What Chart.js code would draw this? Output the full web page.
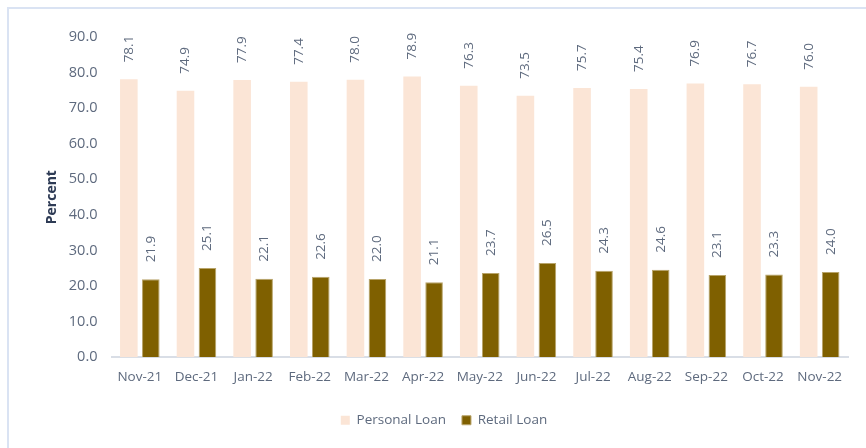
<!DOCTYPE html>
<html>
<head>
<meta charset="utf-8">
<script src="https://cdn.jsdelivr.net/npm/chart.js@4.4.0/dist/chart.umd.min.js"></script>
<style>
  html, body { margin: 0; padding: 0; background: #fff; }
  #wrap { position: relative; width: 866px; height: 448px; }
  #frame {
    position: absolute; left: 7px; top: 7px; right: -4px; bottom: -4px;
    border-left: 2px solid #dae3f3; border-top: 2px solid #dae3f3;
    pointer-events: none;
  }
  canvas { position: absolute; left: 0; top: 0; }
</style>
</head>
<body>
<div id="wrap">
  <canvas id="myChart" width="866" height="448"></canvas>
  <div id="frame"></div>
</div>
<script>
const months = ["Nov-21", "Dec-21", "Jan-22", "Feb-22", "Mar-22", "Apr-22", "May-22",
  "Jun-22", "Jul-22", "Aug-22", "Sep-22", "Oct-22", "Nov-22"];
const personalLoan = [78.1, 74.9, 77.9, 77.4, 78.0, 78.9, 76.3, 73.5, 75.7, 75.4, 76.9, 76.7, 76.0];
const retailLoan = [21.9, 25.1, 22.1, 22.6, 22.0, 21.1, 23.7, 26.5, 24.3, 24.6, 23.1, 23.3, 24.0];
const yTicks = [0, 10, 20, 30, 40, 50, 60, 70, 80, 90];

const textColor = "#5e6a7e";
const fontFamily = "'Open Sans', sans-serif";

// value labels, rotated, above each bar
const barLabels = {
  id: "barLabels",
  afterDatasetsDraw(chart) {
    const ctx = chart.ctx;
    ctx.save();
    ctx.font = "13.5px " + fontFamily;
    ctx.fillStyle = textColor;
    ctx.textAlign = "left";
    ctx.textBaseline = "middle";
    chart.data.datasets.forEach((ds, i) => {
      chart.getDatasetMeta(i).data.forEach((bar, j) => {
        ctx.save();
        ctx.translate(bar.x, bar.y - 17);
        ctx.rotate(-Math.PI / 2);
        ctx.fillText(ds.data[j].toFixed(1), 0, 0);
        ctx.restore();
      });
    });
    ctx.restore();
  },
};

new Chart(document.getElementById("myChart"), {
  type: "bar",
  data: {
    labels: months,
    datasets: [
      {
        label: "Personal Loan",
        data: personalLoan,
        backgroundColor: "#fbe5d6",
        barPercentage: 0.8,
        categoryPercentage: 0.776,
      },
      {
        label: "Retail Loan",
        data: retailLoan,
        backgroundColor: "#7f6000",
        borderColor: "#b8a46a",
        borderWidth: 1,
        barPercentage: 0.8,
        categoryPercentage: 0.776,
      },
    ],
  },
  options: {
    responsive: false,
    animation: false,
    layout: { padding: { top: 37, left: 40, right: 18, bottom: 11 } },
    scales: {
      x: {
        grid: { display: false, drawTicks: false },
        border: { display: true, color: "#d9dee6", width: 2 },
        ticks: {
          color: textColor,
          font: { family: fontFamily, size: 13.5 },
          padding: 12,
          maxRotation: 0,
        },
      },
      y: {
        min: 0,
        max: 90,
        afterBuildTicks: (scale) => {
          scale.ticks = yTicks.map((v) => ({ value: v }));
        },
        afterFit: (scale) => {
          scale.width = 71.5;
        },
        grid: { display: false, drawTicks: false },
        border: { display: false },
        ticks: {
          color: textColor,
          font: { family: fontFamily, size: 14.5 },
          padding: 14,
          callback: (v) => Number(v).toFixed(1),
        },
        title: {
          display: true,
          text: "Percent",
          color: "#2e3b55",
          font: { family: fontFamily, size: 14, weight: "bold" },
          padding: { top: 4, bottom: 0 },
        },
      },
    },
    plugins: {
      legend: {
        position: "bottom",
        labels: {
          color: textColor,
          font: { family: fontFamily, size: 13.5 },
          boxWidth: 9,
          boxHeight: 9,
          padding: 16,
        },
      },
      tooltip: { enabled: false },
    },
  },
  plugins: [barLabels],
});
</script>
</body>
</html>
